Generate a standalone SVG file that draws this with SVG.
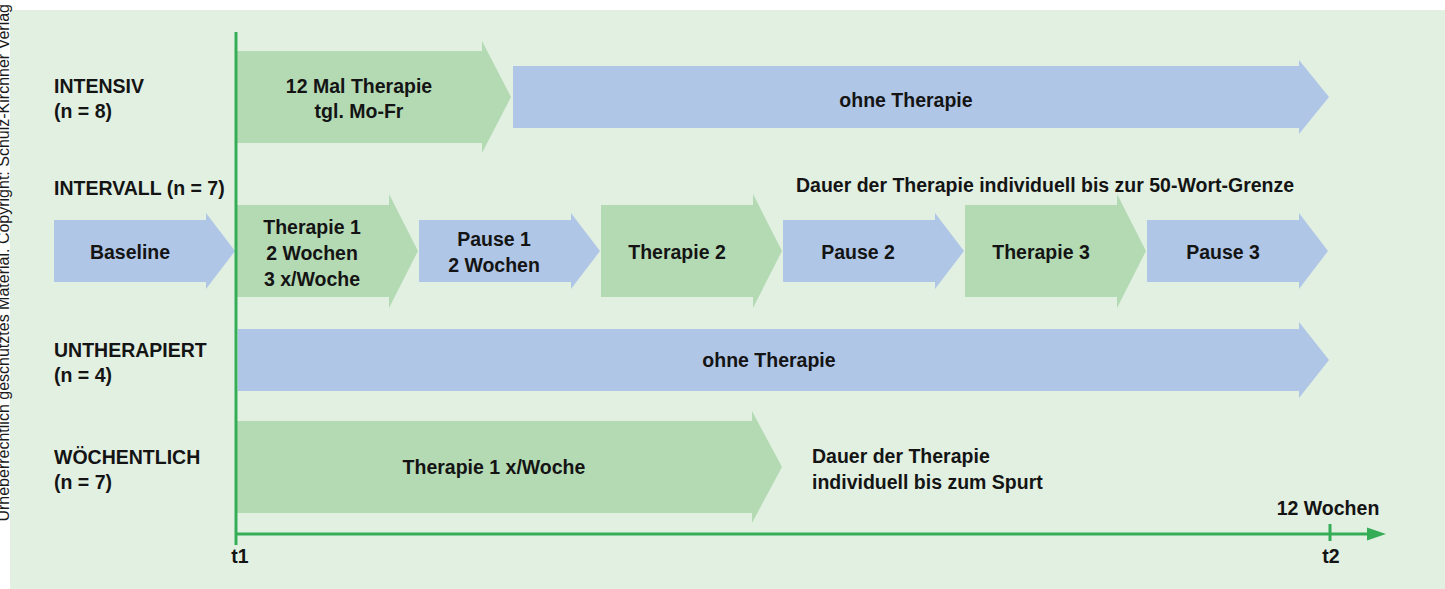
<svg xmlns="http://www.w3.org/2000/svg" width="1445" height="589" viewBox="0 0 1445 589">
<defs>
<style>
.t{font-family:"Liberation Sans",Arial,sans-serif;font-weight:bold;font-size:19.5px;fill:#141414}
.c{text-anchor:middle}
.g{fill:#b4dab4}
.b{fill:#b0c6e6}
.ax{stroke:#35ad57;stroke-width:3;fill:none}
.cp{font-family:"Liberation Sans",Arial,sans-serif;font-size:16px;fill:#1a1a1a}
</style>
<marker id="ah" markerUnits="userSpaceOnUse" markerWidth="20" markerHeight="14" refX="2" refY="7" orient="auto">
<path d="M0,0.5 L19,7 L0,13.5 Z" fill="#35ad57"/>
</marker>
</defs>
<rect x="0" y="0" width="1445" height="589" fill="#ffffff"/>
<rect x="10" y="10" width="1435" height="579" fill="#e2f0e2"/>
<text class="cp" transform="translate(8.5,4) rotate(-90)" text-anchor="end">Urheberrechtlich geschütztes Material. Copyright: Schulz-Kirchner Verlag</text>

<g id="labels">
<text class="t" x="54" y="93">INTENSIV</text>
<text class="t" x="54" y="118">(n = 8)</text>
<text class="t" x="54" y="195">INTERVALL (n = 7)</text>
<text class="t" x="54" y="357">UNTHERAPIERT</text>
<text class="t" x="54" y="382">(n = 4)</text>
<text class="t" x="54" y="464">WÖCHENTLICH</text>
<text class="t" x="54" y="489">(n = 7)</text>
</g>

<g id="intensiv-therapie">
<path class="g" d="M236,51 H482 V41 L511,97 L482,153 V143 H236 Z"/>
<text class="t c" x="359" y="93">12 Mal Therapie</text>
<text class="t c" x="359" y="118">tgl. Mo-Fr</text>
</g>
<g id="intensiv-ohne">
<path class="b" d="M513,66 H1299 V60 L1329,97 L1299,134 V128 H513 Z"/>
<text class="t c" x="906" y="107">ohne Therapie</text>
</g>

<g id="intervall-note">
<text class="t" x="796" y="192">Dauer der Therapie individuell bis zur 50-Wort-Grenze</text>
</g>
<g id="baseline">
<path class="b" d="M54,220 H206 V213 L235,251 L206,289 V282 H54 Z"/>
<text class="t c" x="130" y="259">Baseline</text>
</g>
<g id="therapie1">
<path class="g" d="M236,205 H389 V194 L418,251 L389,308 V297 H236 Z"/>
<text class="t c" x="312" y="234">Therapie 1</text>
<text class="t c" x="312" y="260">2 Wochen</text>
<text class="t c" x="312" y="286">3 x/Woche</text>
</g>
<g id="pause1">
<path class="b" d="M419,220 H571 V213 L600,251 L571,289 V282 H419 Z"/>
<text class="t c" x="494" y="246">Pause 1</text>
<text class="t c" x="494" y="272">2 Wochen</text>
</g>
<g id="therapie2">
<path class="g" d="M601,205 H753 V194 L782,251 L753,308 V297 H601 Z"/>
<text class="t c" x="677" y="259">Therapie 2</text>
</g>
<g id="pause2">
<path class="b" d="M783,220 H935 V213 L964,251 L935,289 V282 H783 Z"/>
<text class="t c" x="858" y="259">Pause 2</text>
</g>
<g id="therapie3">
<path class="g" d="M965,205 H1117 V194 L1146,251 L1117,308 V297 H965 Z"/>
<text class="t c" x="1041" y="259">Therapie 3</text>
</g>
<g id="pause3">
<path class="b" d="M1147,220 H1299 V213 L1328,251 L1299,289 V282 H1147 Z"/>
<text class="t c" x="1223" y="259">Pause 3</text>
</g>

<g id="untherapiert-ohne">
<path class="b" d="M238,329 H1299 V322 L1329,360 L1299,398 V391 H238 Z"/>
<text class="t c" x="769" y="367">ohne Therapie</text>
</g>

<g id="woechentlich-therapie">
<path class="g" d="M236,421 H752 V411 L782,467 L752,523 V513 H236 Z"/>
<text class="t c" x="494" y="474">Therapie 1 x/Woche</text>
</g>
<g id="woechentlich-note">
<text class="t" x="812" y="463">Dauer der Therapie</text>
<text class="t" x="812" y="489">individuell bis zum Spurt</text>
</g>

<g id="connectors">
<line class="ax" x1="236" y1="32" x2="236" y2="545"/>
<line class="ax" x1="236" y1="534" x2="1369" y2="534" marker-end="url(#ah)"/>
<line class="ax" x1="1330" y1="524" x2="1330" y2="541"/>
</g>
<g id="axis-labels">
<text class="t c" x="240" y="563">t1</text>
<text class="t c" x="1331" y="563">t2</text>
<text class="t c" x="1328" y="515">12 Wochen</text>
</g>
</svg>
